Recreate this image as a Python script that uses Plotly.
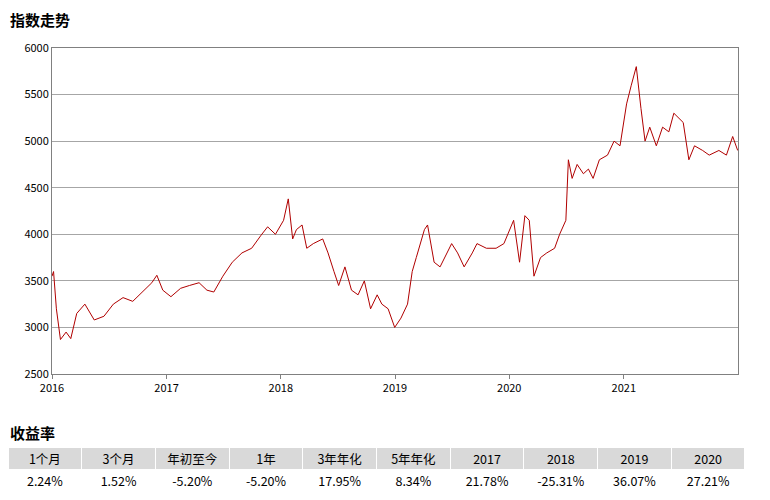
import plotly.graph_objs as go

dates = ['2016-01-01', '2016-01-06', '2016-01-15', '2016-01-28', '2016-02-15', '2016-03-01', '2016-03-20', '2016-04-15',
         '2016-05-15', '2016-06-15', '2016-07-15', '2016-08-15', '2016-09-15', '2016-10-15', '2016-11-15', '2016-12-01',
         '2016-12-20', '2017-01-15', '2017-02-15', '2017-03-15', '2017-04-15', '2017-05-10', '2017-06-01', '2017-06-30',
         '2017-07-30', '2017-08-30', '2017-09-30', '2017-10-30', '2017-11-20', '2017-12-15', '2018-01-10', '2018-01-25',
         '2018-02-08', '2018-02-20', '2018-03-10', '2018-03-25', '2018-04-15', '2018-05-15', '2018-06-01', '2018-06-20',
         '2018-07-05', '2018-07-25', '2018-08-15', '2018-09-05', '2018-09-25', '2018-10-15', '2018-11-05', '2018-11-20',
         '2018-12-10', '2018-12-31', '2019-01-20', '2019-02-10', '2019-02-25', '2019-03-10', '2019-04-05', '2019-04-15',
         '2019-05-06', '2019-05-25', '2019-06-15', '2019-07-01', '2019-07-20', '2019-08-10', '2019-09-05', '2019-09-20',
         '2019-10-20', '2019-11-20', '2019-12-15', '2020-01-15', '2020-02-03', '2020-02-20', '2020-03-05', '2020-03-20',
         '2020-04-10', '2020-04-30', '2020-05-25', '2020-06-10', '2020-06-30', '2020-07-08', '2020-07-20', '2020-08-05',
         '2020-08-25', '2020-09-10', '2020-09-25', '2020-10-15', '2020-11-10', '2020-12-01', '2020-12-20', '2021-01-10',
         '2021-01-25', '2021-02-10', '2021-02-25', '2021-03-10', '2021-03-25', '2021-04-15', '2021-05-05', '2021-05-25',
         '2021-06-10', '2021-06-25', '2021-07-10', '2021-07-28', '2021-08-15', '2021-09-10', '2021-10-01', '2021-11-01',
         '2021-11-25', '2021-12-15', '2021-12-31']
values = [3550, 3600, 3200, 2870, 2950, 2880, 3150, 3250,
          3080, 3120, 3250, 3320, 3280, 3380, 3480, 3560,
          3400, 3330, 3420, 3450, 3480, 3400, 3380, 3550,
          3700, 3800, 3850, 3990, 4080, 4000, 4150, 4380,
          3950, 4050, 4100, 3850, 3900, 3950, 3800, 3600,
          3450, 3650, 3400, 3350, 3500, 3200, 3350, 3250,
          3200, 3000, 3100, 3250, 3600, 3750, 4050, 4100,
          3700, 3650, 3800, 3900, 3800, 3650, 3800, 3900,
          3850, 3850, 3900, 4150, 3700, 4200, 4150, 3550,
          3750, 3800, 3850, 4000, 4150, 4800, 4600, 4750,
          4650, 4700, 4600, 4800, 4850, 5000, 4950, 5400,
          5600, 5800, 5350, 5000, 5150, 4950, 5150, 5100,
          5300, 5250, 5200, 4800, 4950, 4900, 4850, 4900,
          4850, 5050, 4900]

headers = ['1个月', '3个月', '年初至今', '1年', '3年年化', '5年年化', '2017', '2018', '2019', '2020']
returns = ['2.24%', '1.52%', '-5.20%', '-5.20%', '17.95%', '8.34%', '21.78%', '-25.31%', '36.07%', '27.21%']

fig = go.Figure()
fig.add_trace(go.Scatter(x=dates, y=values, mode='lines', line=dict(color='#b00000', width=1),
                         showlegend=False))
# page renders with an 8px offset, so positions below are shifted by 8px
fig.add_trace(go.Table(domain=dict(x=[0, 737/770], y=[0, 1 - 439/500]),
                       header=dict(values=headers, fill_color='#d9d9d9', line_color='white',
                                   height=22, font=dict(size=12.5, color='black')),
                       cells=dict(values=[[r] for r in returns], fill_color='white', line_color='white',
                                  height=24, font=dict(size=12.5, color='black'))))

fig.update_layout(width=770, height=500, margin=dict(t=0, b=0, l=0, r=0),
                  plot_bgcolor='white', paper_bgcolor='white',
                  font=dict(family='Noto Sans CJK SC', size=11, color='black'),
                  xaxis=dict(domain=[44/770, 730/770], type='date', range=['2016-01-01', '2022-01-01'],
                             tickvals=['2016-01-01', '2017-01-01', '2018-01-01', '2019-01-01', '2020-01-01', '2021-01-01'],
                             ticktext=['2016', '2017', '2018', '2019', '2020', '2021'], automargin=False,
                             showgrid=False, showline=True, linecolor='#808080', mirror=True, ticks='outside',
                             ticklen=4, tickcolor='#808080'),
                  yaxis=dict(domain=[1 - 366/500, 1 - 40/500], range=[2500, 6000], dtick=500, automargin=False,
                             showgrid=True, gridcolor='#a6a6a6', showline=True, linecolor='#808080',
                             mirror=True, zeroline=False),
                  annotations=[dict(text='<b>指数走势</b>', x=0, y=1 - 11/500, xref='paper', yref='paper',
                                    xanchor='left', yanchor='middle', showarrow=False, font=dict(size=15)),
                               dict(text='<b>收益率</b>', x=0, y=1 - 424/500, xref='paper', yref='paper',
                                    xanchor='left', yanchor='middle', showarrow=False, font=dict(size=15))])

fig.write_html("out.html")
